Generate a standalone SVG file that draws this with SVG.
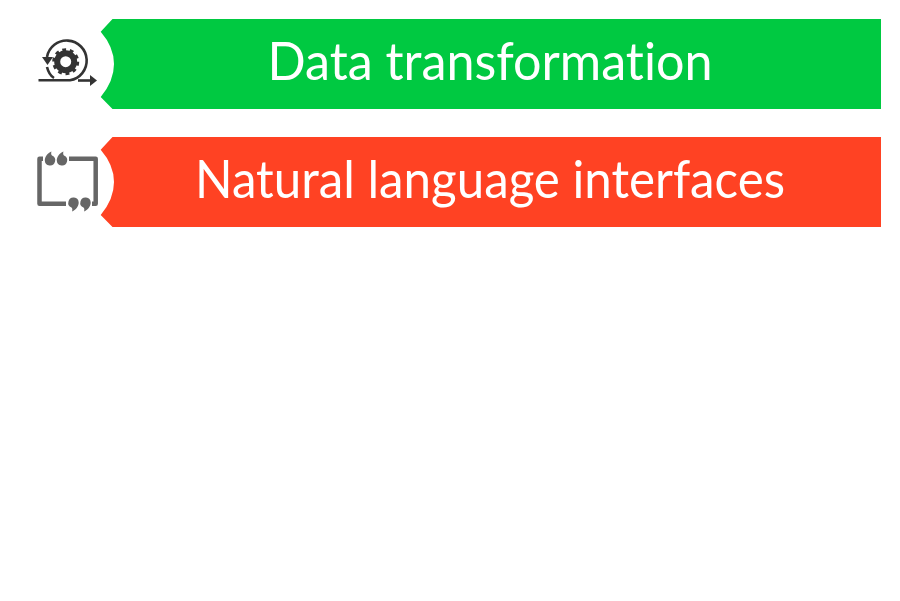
<svg xmlns="http://www.w3.org/2000/svg" width="900" height="601" viewBox="0 0 900 601">
<style>
.t{font-family:"Lato","Open Sans",sans-serif;font-size:52px;fill:#fff;text-anchor:middle;font-variant-ligatures:none}
.d{fill:none;stroke:#333;stroke-width:2.600}
.g{fill:none;stroke:#666;stroke-width:4.500;stroke-linejoin:round}
.q{fill:#666}
</style>
<rect width="900" height="601" fill="#fff"/>
<g id="node-data-transformation">
<path d="M112.500 19H881V109H112.500L100.700 97Q114 81 114 64Q114 47 100.700 31.700Z" fill="#00c941"/>
<text class="t" x="490" y="80" textLength="445" lengthAdjust="spacingAndGlyphs">Data transformation</text>
<g id="icon-gear">
<path class="d" d="M47 57A20 20 0 1 1 70 80.300H38.500"/>
<path class="d" d="M47 67Q49 75 54 78"/>
<path d="M42 57L47.500 65L53 57Z" fill="#333"/>
<path class="d" d="M78 80.500H94"/>
<path d="M90 75L97 80.500L90 86Z" fill="#333"/>
<circle cx="65.700" cy="61.700" r="8.500" fill="none" stroke="#333" stroke-width="6"/>
<circle cx="65.700" cy="61.700" r="12" fill="none" stroke="#333" stroke-width="3" stroke-dasharray="3.800 3.740"/>
</g>
</g>
<g id="node-natural-language">
<path d="M112.500 137H881V227H112.500L100.700 215Q114 199 114 182Q114 165 100.700 149.700Z" fill="#ff4223"/>
<text class="t" x="490" y="198" textLength="590" lengthAdjust="spacingAndGlyphs">Natural language interfaces</text>
<g id="icon-quote">
<path class="g" d="M43 158.700H39.500V203.700H66"/>
<path class="g" d="M69 158.700H95.700V203.700H92"/>
<path class="q" d="M51.500 151.500C47 153.500 44.800 157 44.800 160.500A5.200 5.200 0 1 0 52 155.500C51 154.500 51 153 51.500 151.500Z"/>
<path class="q" d="M63.500 151.500C59 153.500 56.800 157 56.800 160.500A5.200 5.200 0 1 0 64 155.500C63 154.500 63 153 63.500 151.500Z"/>
<path class="q" d="M72 211.500C76.500 209.500 78.700 206 78.700 202.500A5.200 5.200 0 1 0 71.500 207.500C72.500 208.500 72.500 210 72 211.500Z"/>
<path class="q" d="M84 211.500C88.500 209.500 90.700 206 90.700 202.500A5.200 5.200 0 1 0 83.500 207.500C84.500 208.500 84.500 210 84 211.500Z"/>
</g>
</g>
</svg>
